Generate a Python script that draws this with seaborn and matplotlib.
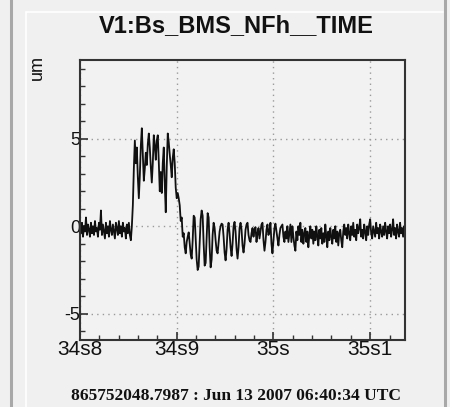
import numpy as np
import pandas as pd
import matplotlib
matplotlib.use("Agg")
import matplotlib.pyplot as plt
from matplotlib.lines import Line2D
from matplotlib.ticker import FixedLocator, MultipleLocator
import seaborn as sns

# Channel readout starting at 34.800 s (in um), sampled at 970 Hz
t_start = 34.800
rate = 970.0

quiet = [0.1, -0.4, 0.2, -0.6, 0.0, -0.3, 0.5, -0.5, 0.1, -0.2, -0.6, 0.2, -0.4,
         0.0, -0.5, 0.3, -0.3, -0.1, -0.6, 0.2, -0.2, 0.9, -0.5, 0.1, -0.3, -0.7,
         0.2, -0.4, 0.0, -0.6, 0.3, -0.2, -0.5, 0.1, -0.3, -0.7, 0.2, -0.1, -0.5,
         0.3, -0.4, 0.0, -0.6, 0.2, -0.3, -0.1, -0.7, 0.1, -0.4, 0.2, -0.5, -0.8,
         0.0]

excursion = [1.2, 3.3, 4.9, 3.6, 4.5, 2.8, 1.6, 2.9, 4.6, 5.6, 4.1, 2.6, 3.3, 4.2,
             3.5, 4.7, 5.3, 4.5, 3.4, 2.5, 3.6, 5.2, 4.6, 3.8, 4.9, 5.2, 3.7, 2.0,
             3.1, 1.9, 3.6, 4.5, 2.4, 0.8, 3.4, 5.3, 4.8, 4.1, 3.5, 2.8, 3.9, 4.4,
             3.6, 2.2, 1.6, 1.9, 1.6, 1.2, 0.3, 0.5, -0.6, -0.4, -1.2, -1.55]

ringdown = [-0.9, -0.6, -0.35, -1.0, -1.6, -1.85, -0.8, 0.6, 0.5, -0.7, -1.9, -2.5,
            -2.3, -0.9, 0.4, 0.9, 0.6, -1.0, -2.25, -2.1, -0.6, 0.75, 0.5, -1.2,
            -2.35, -1.9, -0.5, 0.2, -0.1, -0.8, -1.4, -1.55, -0.9, -0.3, 0.0, 0.15,
            0.1, -0.6, -1.5, -1.95, -1.3, -0.2, 0.2, -0.4, -1.2, -1.7, -1.0, 0.0,
            0.25, -0.3, -1.3, -1.85, -1.2, -0.1, 0.2, -0.2, -1.1, -1.5, -1.0, -0.2,
            0.1, 0.2, -0.5, -0.8, -0.9, -0.4, -0.1, -0.6, -0.2, -0.05, -0.9, -0.4,
            -0.1, -0.7, -0.3, 0.1, 0.2, -0.8, -1.4, -0.9, -0.2, 0.1, -0.5, -0.3,
            0.2, -1.0, -1.55, -0.8, -0.1, 0.15, -0.3, -0.7, -1.1, -0.5, -0.1, 0.0,
            0.1, -0.6, -0.9, -0.3, -0.7, 0.0, -0.9, -0.4, 0.1]

tail = [-0.9, 0.0, -0.6, -1.1, -1.4, -0.3, -0.8, 0.0, -0.5, 0.2, -0.9, -0.2, -1.0,
        -0.4, -0.1, -0.9, -0.3, -1.2, -0.5, 0.0, -0.7, -0.2, -1.0, -0.3, -0.8, 0.0,
        -0.6, -1.1, -0.2, -0.7, -0.1, -1.0, -0.4, -0.9, 0.1, -0.6, -1.2, -0.3, -0.8,
        -0.1, -0.6, -1.0, -0.2, -0.7, 0.0, -0.9, -0.3, -1.1, -0.4, -0.2, -0.8, -1.2,
        -0.3, 0.1, -0.5, -0.1, -0.7, 0.1, -0.4, -0.8, 0.0, -0.5, 0.2, -0.6, -0.2,
        -0.8, 0.1, -0.4, -0.1, 0.4, -0.6, -0.2, -0.7, 0.1, -0.3, -0.8, 0.0, -0.5,
        0.1, 0.4, -0.4, -0.7, 0.0, -0.3, -0.6, 0.2, -0.4, -0.1, -0.7, 0.1, -0.3,
        -0.6, 0.0, -0.5, 0.2, -0.3, -0.7, 0.0, -0.4, 0.1, -0.6, -0.2, 0.4, -0.5,
        -0.1, -0.7, 0.1, -0.3, -0.6, 0.2, -0.4, -0.1, -0.6, 0.0, -0.3]

x_ticks = [34.8, 34.9, 35.0, 35.1]
x_tick_labels = ["34s8", "34s9", "35s", "35s1"]
y_ticks = [-5, 0, 5]
y_tick_labels = ["-5", "0", "5"]

title = "V1:Bs_BMS_NFh__TIME"
unit = "um"
footer = "865752048.7987 : Jun 13 2007 06:40:34 UTC"

values = np.array(quiet + excursion + ringdown + tail)
times = t_start + np.arange(len(values)) / rate
df = pd.DataFrame({"time": times, "value": values})

sns.set_theme(style="ticks")
bg = "#f0f0f0"
plt.rcParams["font.family"] = ["Liberation Sans", "DejaVu Sans"]

W, H = 450, 407
fig = plt.figure(figsize=(W / 100, H / 100), dpi=100, facecolor=bg)
ax = fig.add_axes([80 / W, 1 - 340 / H, (405 - 80) / W, (340 - 60) / H])
ax.set_facecolor("#f2f2f2")

sns.lineplot(data=df, x="time", y="value", ax=ax, color="#101010",
             linewidth=1.3, estimator=None, sort=False)

ax.set_xlim(34.8, 35.136)
ax.set_ylim(-6.5, 9.5)

ax.xaxis.set_major_locator(FixedLocator(x_ticks))
ax.set_xticklabels(x_tick_labels)
ax.xaxis.set_minor_locator(MultipleLocator(0.02))
ax.yaxis.set_major_locator(FixedLocator(y_ticks))
ax.set_yticklabels(y_tick_labels)
ax.yaxis.set_minor_locator(MultipleLocator(1))

ax.tick_params(axis="both", which="both", direction="in", color="#333333",
               top=False, right=False)
ax.tick_params(axis="x", which="major", length=6, width=1.2, pad=0,
               labelsize=15, labelcolor="#111111")
ax.tick_params(axis="y", which="major", length=6, width=1.2, pad=0,
               labelsize=13, labelcolor="#111111")
ax.tick_params(axis="both", which="minor", length=3.5, width=1.0)

ax.grid(True, which="major", linestyle=(0, (1, 3)), color="#9a9a9a", linewidth=1.0)
for s in ax.spines.values():
    s.set_color("#333333")
    s.set_linewidth(1.5)

ax.set_xlabel("")
ax.set_ylabel("")

fig.text(236 / W, 1 - 26 / H, title, ha="center", va="center",
         fontsize=17, fontweight="bold", color="#111111")
fig.text(37 / W, 1 - 68 / H, unit, ha="center", va="center", rotation=90,
         fontsize=13, color="#111111")
fig.text(236 / W, 1 - 396 / H, footer, ha="center", va="center",
         fontsize=12.5, fontweight="bold", color="#111111",
         family=["Liberation Serif", "DejaVu Serif"])

# Panel frame decorations
fig.add_artist(Line2D([11 / W, 11 / W], [0, 1], color="#a8a8a8", linewidth=2.2))
fig.add_artist(Line2D([445 / W, 445 / W], [0, 1], color="#a8a8a8", linewidth=2.2))
fig.add_artist(Line2D([26 / W, 26 / W], [0, 1 - 12 / H], color="#ffffff", linewidth=1.2))
fig.add_artist(Line2D([26 / W, 443 / W], [1 - 12 / H, 1 - 12 / H], color="#ffffff", linewidth=1.2))

fig.savefig("out.png", dpi=100, facecolor=bg)
